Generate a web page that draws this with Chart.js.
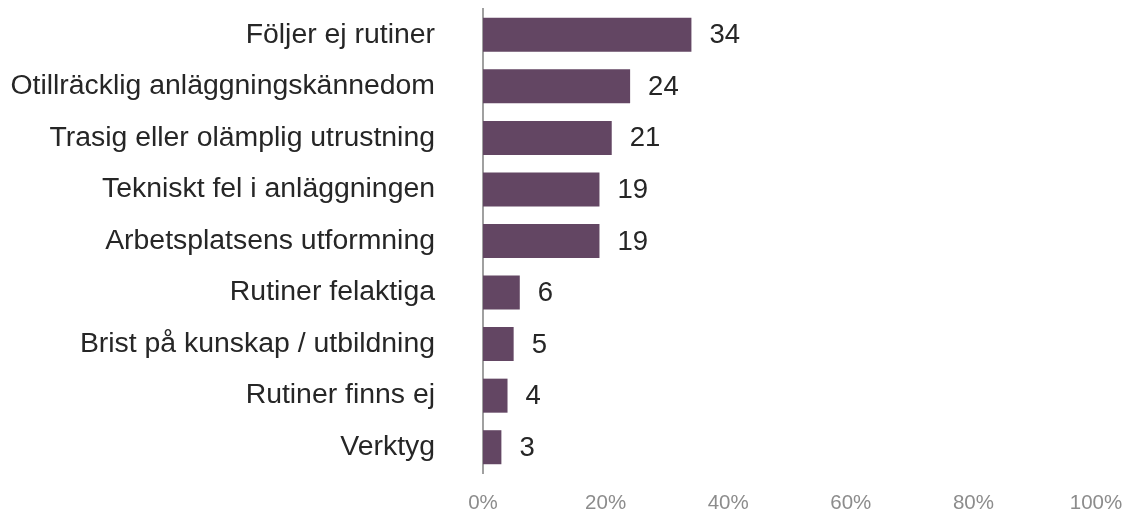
<!DOCTYPE html>
<html>
<head>
<meta charset="utf-8">
<script src="https://cdn.jsdelivr.net/npm/chart.js@4"></script>
<style>
  html, body { margin: 0; padding: 0; background: #fff; }
  #wrap { width: 1126px; height: 510px; }
</style>
</head>
<body>
<div id="wrap"><canvas id="orsak-chart" width="1126" height="510"></canvas></div>
<script>
// Orsaker
const categories = [
    "Följer ej rutiner",
    "Otillräcklig anläggningskännedom",
    "Trasig eller olämplig utrustning",
    "Tekniskt fel i anläggningen",
    "Arbetsplatsens utformning",
    "Rutiner felaktiga",
    "Brist på kunskap / utbildning",
    "Rutiner finns ej",
    "Verktyg",
];
const values = [34, 24, 21, 19, 19, 6, 5, 4, 3];
const xTicks = [0, 20, 40, 60, 80, 100];

const FONT = "'Liberation Sans', Arial, sans-serif";

// draw the number next to each bar
const valueLabels = {
    id: "valueLabels",
    afterDatasetsDraw(chart) {
        const ctx = chart.ctx;
        const meta = chart.getDatasetMeta(0);
        ctx.save();
        ctx.font = "27.5px " + FONT;
        ctx.fillStyle = "#262626";
        ctx.textAlign = "left";
        ctx.textBaseline = "middle";
        meta.data.forEach((bar, i) => {
            ctx.fillText(String(values[i]), bar.x + 18, bar.y + 1);
        });
        ctx.restore();
    }
};

const config = {
    type: "bar",
    data: {
        labels: categories,
        datasets: [{
            data: values,
            backgroundColor: "#634663",
            borderWidth: 0,
            categoryPercentage: 0.66,
            barPercentage: 1,
        }]
    },
    options: {
        indexAxis: "y",
        responsive: false,
        animation: false,
        layout: { padding: { top: 9, right: 30, left: 0, bottom: 0 } },
        plugins: {
            legend: { display: false },
            tooltip: { enabled: false },
        },
        scales: {
            x: {
                min: 0,
                max: 100,
                afterBuildTicks(scale) {
                    scale.ticks = xTicks.map(v => ({ value: v }));
                },
                afterFit(scale) {
                    scale.height = 37;
                    scale.paddingLeft = 0;
                    scale.paddingRight = 0;
                },
                grid: { display: false, drawTicks: false },
                border: { display: false },
                ticks: {
                    padding: 18,
                    color: "#8c8c8c",
                    font: { family: FONT, size: 20.5 },
                    callback: v => v + "%",
                },
            },
            y: {
                afterFit(scale) {
                    scale.width = 483;
                    scale.paddingTop = 0;
                    scale.paddingBottom = 0;
                },
                grid: { display: false, drawTicks: false },
                border: { display: true, color: "#a0a0a0", width: 2 },
                ticks: {
                    padding: 48,
                    color: "#262626",
                    font: { family: FONT, size: 28.4 },
                },
            },
        },
    },
    plugins: [valueLabels],
};

const orsakChart = new Chart(document.getElementById("orsak-chart"), config);
</script>
</body>
</html>
